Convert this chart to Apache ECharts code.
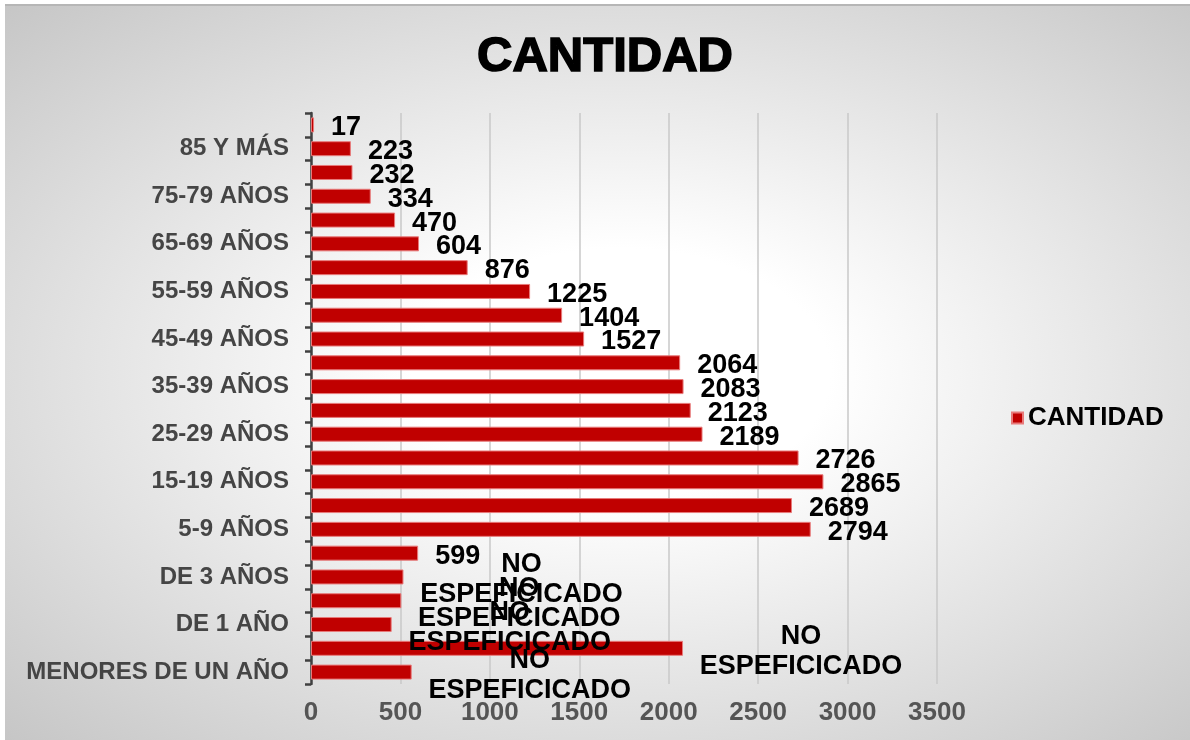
<!DOCTYPE html>
<html>
<head>
<meta charset="utf-8">
<script src="https://cdn.jsdelivr.net/npm/echarts@6/dist/echarts.min.js"></script>
<style>
  html, body { margin: 0; padding: 0; background: #fff; }
  #bg {
    position: absolute; left: 5px; top: 4px; width: 1185px; height: 736px;
    border-top: 2px solid #b6b6b6; box-sizing: border-box;
    background: radial-gradient(ellipse at 52% 50%, #ffffff 0%, #ffffff 24%, #c6c6c6 100%);
  }
  #main { position: absolute; left: 0; top: 0; width: 1190px; height: 740px; }
</style>
</head>
<body>
<div id="bg"></div>
<div id="main"></div>
<script>
// categorias de abajo hacia arriba
var categories = [
  'MENORES DE UN AÑO', 'DE 0 AÑOS', 'DE 1 AÑO', 'DE 2 AÑOS', 'DE 3 AÑOS', 'DE 4 AÑOS',
  '5-9 AÑOS', '10-14 AÑOS', '15-19 AÑOS', '20-24 AÑOS', '25-29 AÑOS', '30-34 AÑOS',
  '35-39 AÑOS', '40-44 AÑOS', '45-49 AÑOS', '50-54 AÑOS', '55-59 AÑOS', '60-64 AÑOS',
  '65-69 AÑOS', '70-74 AÑOS', '75-79 AÑOS', '80-84 AÑOS', '85 Y MÁS', 'NO ESPECIFICADO'
]
var cantidad = [
  563, 2080, 451, 505, 517, 599,
  2794, 2689, 2865, 2726, 2189, 2123,
  2083, 2064, 1527, 1404, 1225, 876,
  604, 470, 334, 232, 223, 17
]
var etiquetas = [
  'NO ESPEFICICADO', 'NO ESPEFICICADO', 'NO ESPEFICICADO', 'NO ESPEFICICADO', 'NO ESPEFICICADO', '599',
  '2794', '2689', '2865', '2726', '2189', '2123',
  '2083', '2064', '1527', '1404', '1225', '876',
  '604', '470', '334', '232', '223', '17'
]
var xTicks = [0, 500, 1000, 1500, 2000, 2500, 3000, 3500]

var chart = echarts.init(document.getElementById('main'))
var font = '"Liberation Sans", Arial, sans-serif'

chart.setOption({
  backgroundColor: 'transparent',
  textStyle: { fontFamily: font },
  title: {
    text: 'CANTIDAD',
    left: 600,
    textAlign: 'center',
    top: 28,
    textStyle: {
      fontFamily: font,
      fontSize: 49,
      fontWeight: 'bold',
      color: '#000',
      textBorderColor: '#000',
      textBorderWidth: 1.6
    }
  },
  legend: {
    data: ['CANTIDAD'],
    orient: 'vertical',
    left: 1006,
    top: 400,
    icon: 'rect',
    itemWidth: 11,
    itemHeight: 11,
    itemGap: 8,
    textStyle: {
      fontFamily: font,
      fontSize: 26,
      fontWeight: 'bold',
      color: '#000'
    }
  },
  grid: {
    left: 311,
    right: 253,
    top: 113,
    bottom: 56
  },
  xAxis: {
    type: 'value',
    min: xTicks[0],
    max: xTicks[xTicks.length - 1],
    interval: 500,
    axisLine: { show: false },
    axisTick: { show: false },
    splitLine: {
      show: true,
      lineStyle: { color: '#c8c8c8', width: 1.5 }
    },
    axisLabel: {
      margin: 16,
      fontFamily: font,
      fontSize: 26,
      fontWeight: 'bold',
      color: '#555555',
      formatter: function (v) { return String(v) }
    }
  },
  yAxis: {
    type: 'category',
    data: categories,
    axisLine: {
      show: true,
      lineStyle: { color: '#404040', width: 2.5 }
    },
    axisTick: {
      show: true,
      interval: 0,
      length: 6,
      lineStyle: { color: '#404040', width: 2.5 }
    },
    axisLabel: {
      interval: 1,
      margin: 22,
      fontFamily: font,
      fontSize: 24,
      fontWeight: 'bold',
      color: '#454545'
    }
  },
  series: [{
    name: 'CANTIDAD',
    type: 'bar',
    data: cantidad,
    barWidth: 15,
    itemStyle: {
      color: '#c00000',
      borderColor: '#e87a7a',
      borderWidth: 1
    },
    label: {
      show: true,
      position: 'right',
      distance: 17,
      offset: [0, 3],
      fontFamily: font,
      fontSize: 27,
      fontWeight: 'bold',
      color: '#000',
      formatter: function (p) {
        var t = etiquetas[p.dataIndex]
        if (isNaN(Number(t))) {
          return t.split(' ').map(function (w) { return '{c|' + w + '}' }).join('\n')
        }
        return t
      },
      rich: {
        c: {
          width: 202,
          align: 'center',
          fontFamily: font,
          fontSize: 27,
          fontWeight: 'bold',
          lineHeight: 30,
          color: '#000'
        }
      }
    }
  }]
})
</script>
</body>
</html>
